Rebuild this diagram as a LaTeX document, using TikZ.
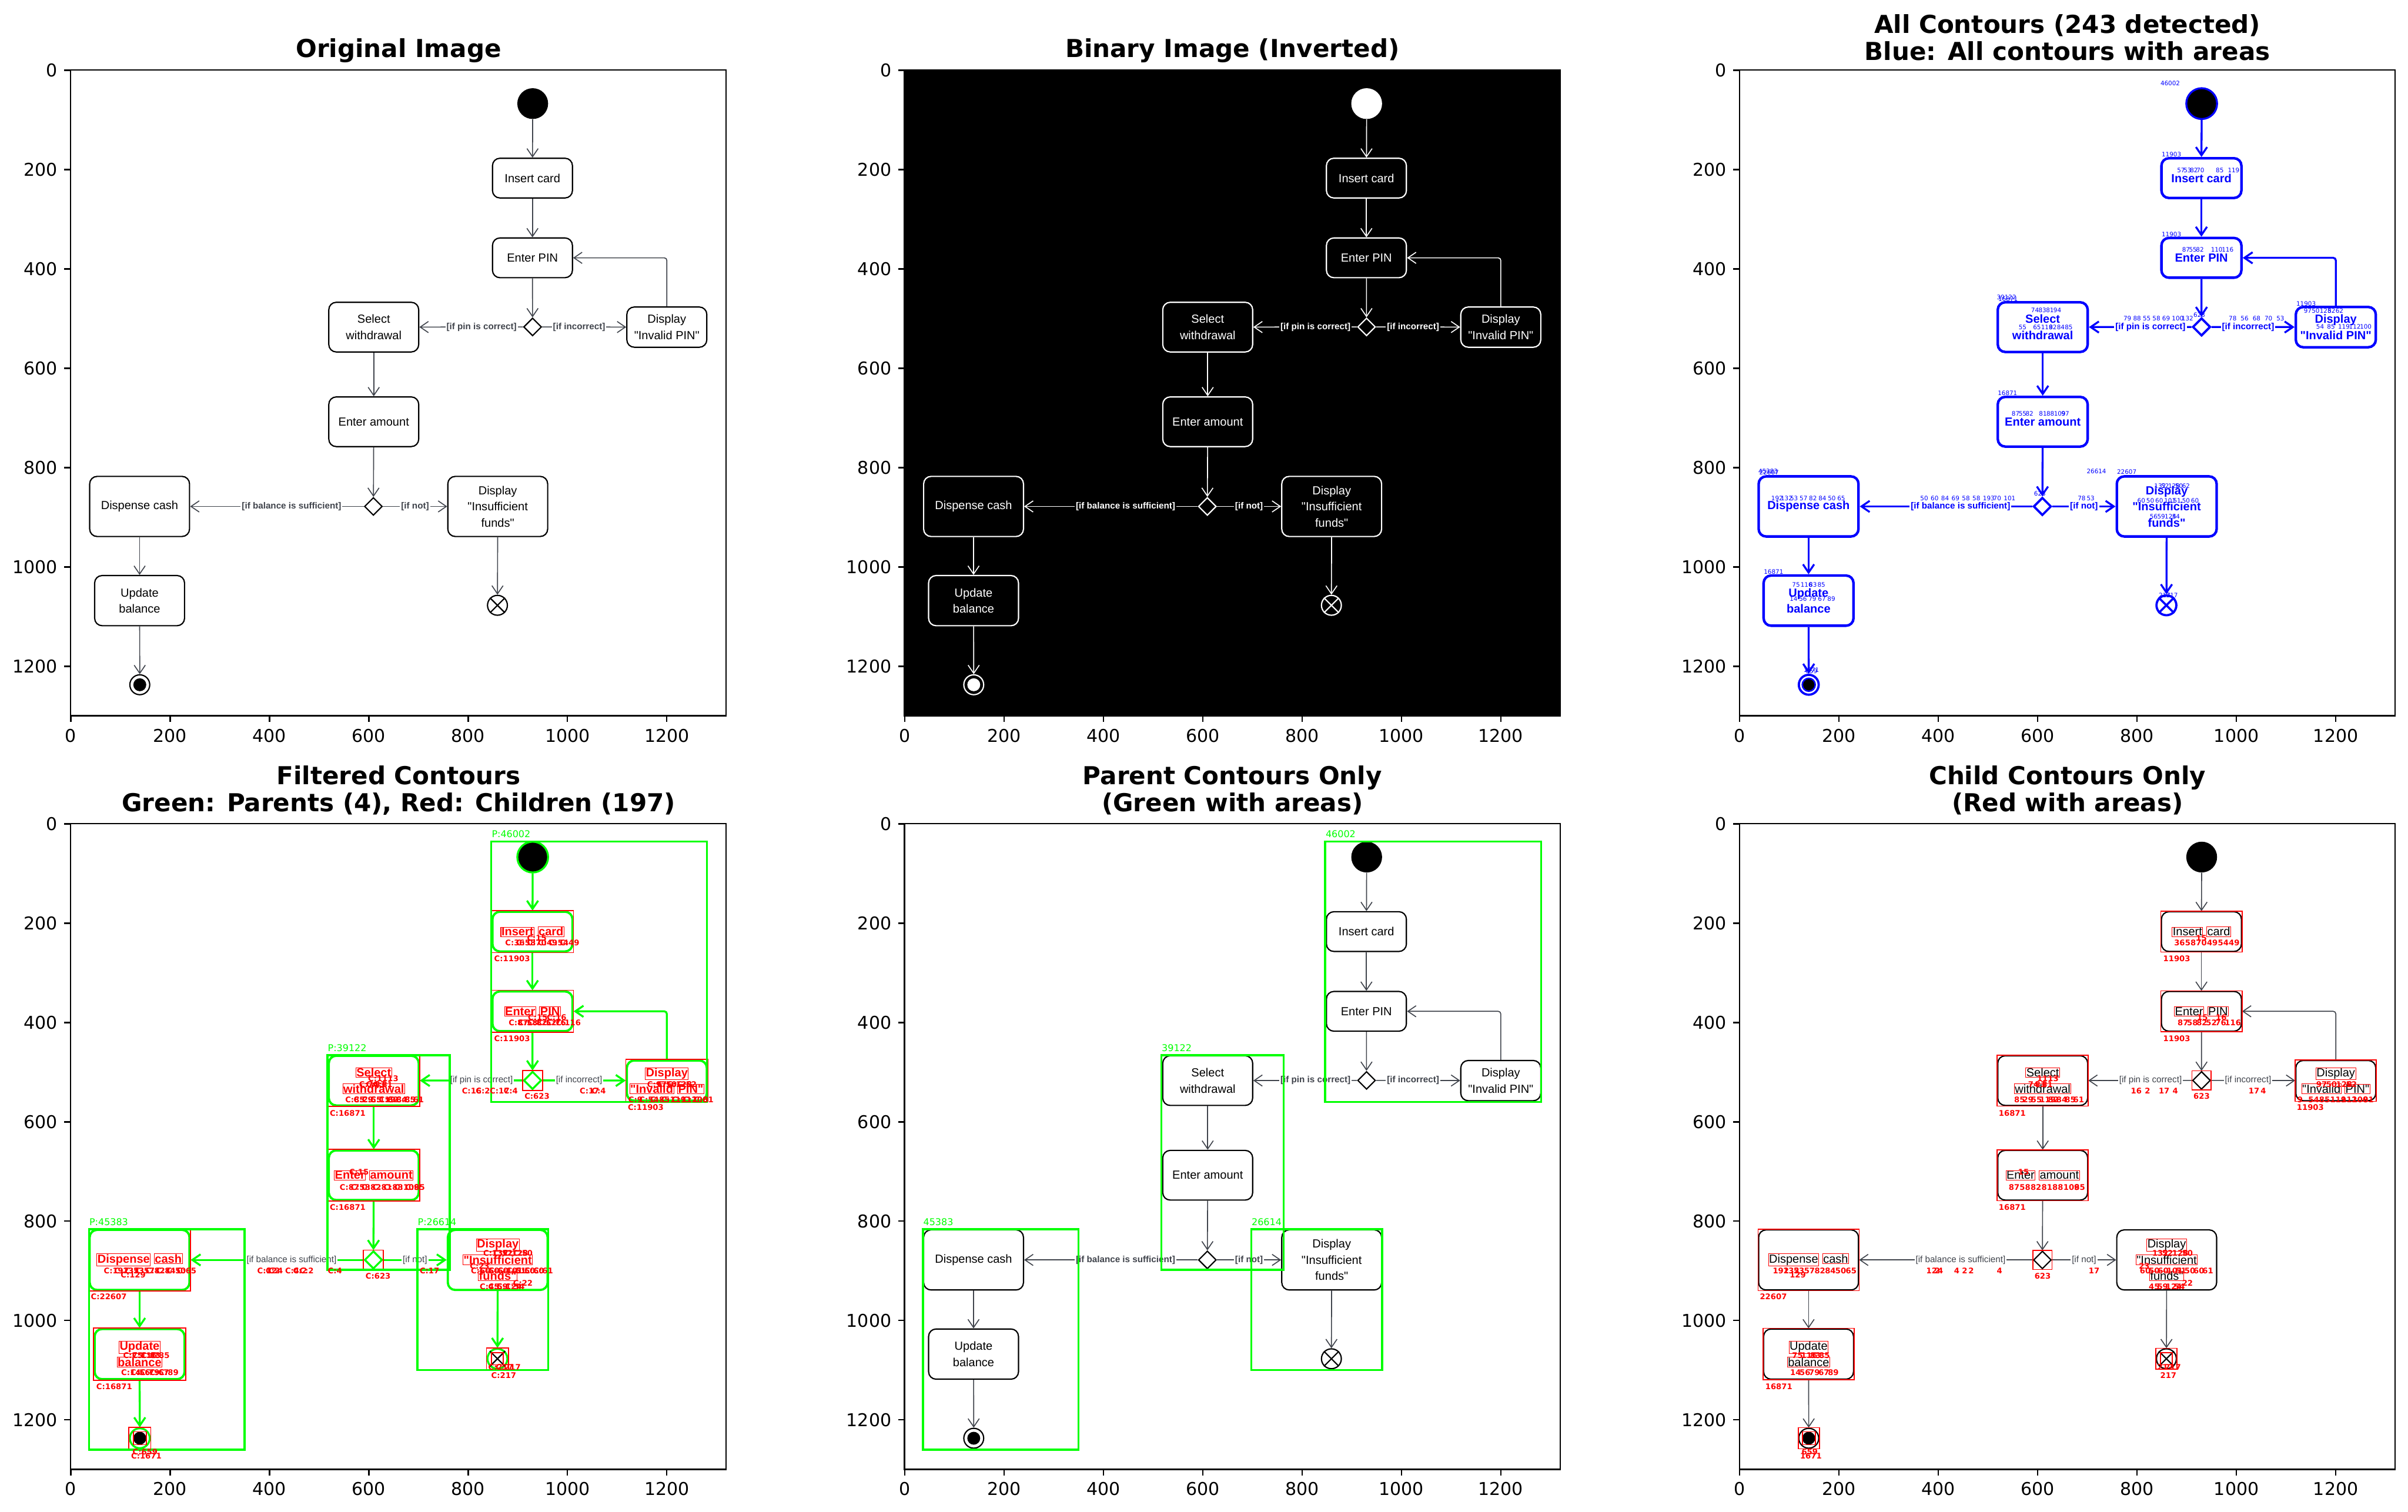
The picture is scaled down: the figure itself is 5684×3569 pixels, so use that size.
\documentclass[tikz,border=0pt]{standalone}
\usepackage{fontspec}
\setmainfont{DejaVu Sans}
\newfontfamily\boxface{Liberation Sans}
\usetikzlibrary{arrows.meta,shapes.geometric}

\definecolor{edgegray}{RGB}{64,68,76}
\definecolor{cvblue}{RGB}{0,0,255}
\definecolor{cvgreen}{RGB}{0,255,0}
\definecolor{cvred}{RGB}{255,0,0}

\newcommand{\du}{0.011725cm}
\newcommand{\titlefont}{\fontsize{16.6}{18.2}\selectfont\bfseries}
\newcommand{\tickfont}{\fontsize{11.85}{14}\selectfont}
\newcommand{\actfont}{\boxface\fontsize{7.9}{10.8}\selectfont}
\newcommand{\guardfont}{\boxface\bfseries\fontsize{6}{7}\selectfont}
\newcommand{\plainguardfont}{\boxface\fontsize{6}{7}\selectfont}
\newcommand{\bluefont}{\fontsize{4.1}{5}\selectfont}
\newcommand{\redfont}{\fontsize{5.2}{6}\selectfont\bfseries}
\newcommand{\greenfont}{\fontsize{6.3}{7}\selectfont}

% word frames for child contours
\newcommand{\chwfmt}[1]{#1}
\newcommand{\chw}[1]{\chwfmt{#1}}
\newcommand{\redframe}[1]{{\setlength{\fboxsep}{0.2pt}\setlength{\fboxrule}{0.4pt}\fcolorbox{cvred}{white}{#1}}}
\newcommand{\ctpre}{}

\tikzset{
  act/.style={rectangle, rounded corners=0.176cm, inner sep=0pt, align=center, font=\actfont, actlook},
  decide/.style={diamond, minimum width=36*\du, minimum height=36*\du, inner sep=0pt, decidelook},
  startnode/.style={circle, minimum size=62*\du, inner sep=0pt, startlook},
  flowend/.style={circle, minimum size=40*\du, inner sep=0pt, endlook},
  finalnode/.style={circle, minimum size=40*\du, inner sep=0pt, endlook},
  flow/.style={flowlook, -{Straight Barb[length=5.5pt,width=7.5pt]}},
  guard/.style={font=\guardfont, inner sep=0.8pt, guardlook},
  actlook/.style={draw=black, line width=0.85pt, fill=white, text=black},
  decidelook/.style={draw=black, line width=0.85pt, fill=white},
  startlook/.style={fill=black},
  endlook/.style={draw=black, line width=0.85pt, fill=white},
  endcross/.style={draw=black, line width=0.85pt},
  finalcore/.style={fill=black},
  flowlook/.style={draw=edgegray, line width=0.65pt},
  guardlook/.style={text=edgegray, fill=white},
  spine/.style={draw=black, line width=0.95pt},
  ticklabel/.style={font=\tickfont, inner sep=4.15pt},
  titletext/.style={font=\titlefont, align=center, inner sep=0pt},
  parentbox/.style={draw=cvgreen, line width=1.35pt},
  parenttag/.style={anchor=base west, inner sep=0pt, font=\greenfont, text=cvgreen},
  childbox/.style={draw=cvred, line width=0.65pt},
  childtag/.style={anchor=base west, inner sep=0pt, font=\redfont, text=cvred},
  bluetag/.style={anchor=base west, inner sep=0pt, font=\bluefont, text=cvblue},
  binarylook/.style={
    actlook/.style={draw=white, line width=0.85pt, fill=black, text=white},
    decidelook/.style={draw=white, line width=0.85pt, fill=black},
    startlook/.style={fill=white},
    endlook/.style={draw=white, line width=0.85pt, fill=black},
    endcross/.style={draw=white, line width=0.85pt},
    finalcore/.style={fill=white},
    flowlook/.style={draw=white, line width=0.65pt},
    guardlook/.style={text=white, fill=black}},
  bluelook/.style={
    actlook/.style={draw=cvblue, line width=1.7pt, fill=white, text=cvblue, font=\actfont\bfseries},
    decidelook/.style={draw=cvblue, line width=1.5pt, fill=white},
    startlook/.style={fill=black, draw=cvblue, line width=1.3pt},
    endlook/.style={draw=cvblue, line width=1.5pt, fill=white},
    endcross/.style={draw=cvblue, line width=1.4pt},
    finalcore/.style={fill=black, draw=cvblue, line width=1pt},
    flowlook/.style={draw=cvblue, line width=1.3pt},
    guardlook/.style={text=cvblue, fill=white}},
  greenlook/.style={
    actlook/.style={draw=cvgreen, line width=1.5pt, fill=white, text=cvred, font=\actfont\bfseries},
    decidelook/.style={draw=cvgreen, line width=1.3pt, fill=white},
    startlook/.style={fill=black, draw=cvgreen, line width=1.3pt},
    endlook/.style={draw=cvgreen, line width=1.3pt, fill=white},
    flowlook/.style={draw=cvgreen, line width=1.3pt},
    guardlook/.style={text=edgegray, fill=white, font=\plainguardfont}},
  childlook/.style={
    guardlook/.style={text=edgegray, fill=white, font=\plainguardfont}},
}

% the activity diagram, in image pixels
\newcommand{\atmflow}{%
  \node[startnode] (init) at (930,67) {};
  \node[act, minimum width=161*\du, minimum height=80*\du] (card) at (929.5,217) {\chw{Insert} \chw{card}};
  \node[act, minimum width=161*\du, minimum height=80*\du] (pin) at (929.5,377.5) {\chw{Enter} \chw{PIN}};
  \node[decide] (pinchk) at (929.7,516.6) {};
  \node[act, minimum width=181*\du, minimum height=100*\du] (sel) at (610,517) {\chw{Select}\\\chw{withdrawal}};
  \node[act, minimum width=161*\du, minimum height=81*\du] (bad) at (1200,517) {\chw{Display}\\\chw{"Invalid} \chw{PIN"}};
  \node[act, minimum width=181*\du, minimum height=100*\du] (amt) at (610,707.5) {\chw{Enter} \chw{amount}};
  \node[decide] (balchk) at (609.3,878) {};
  \node[act, minimum width=201*\du, minimum height=121*\du] (cash) at (138.6,878) {\chw{Dispense} \chw{cash}};
  \node[act, minimum width=201*\du, minimum height=121*\du] (nofunds) at (859.6,878) {\chw{Display}\\\chw{"Insufficient}\\\chw{funds"}};
  \node[act, minimum width=181*\du, minimum height=101*\du] (upd) at (138.6,1067.6) {\chw{Update}\\\chw{balance}};
  \node[flowend] (stopx) at (859,1077) {};
  \node[finalnode] (done) at (139,1237) {};
  \draw[endcross] (stopx.north west) -- (stopx.south east) (stopx.north east) -- (stopx.south west);
  \path[finalcore] (done.center) circle[radius=13*\du];
  % connectors
  \draw[flow] (init) -- (card);
  \draw[flow] (card) -- (pin);
  \draw[flow] (pin) -- (pinchk);
  \draw[flow] (pinchk) -- node[guard, pos=0.4] {[if pin is correct]} (sel);
  \draw[flow] (pinchk) -- node[guard, pos=0.44] {[if incorrect]} (bad);
  \draw[flow, rounded corners=0.06cm] (bad.north) |- (pin.east);
  \draw[flow] (sel) -- (amt);
  \draw[flow] (amt) -- (balchk);
  \draw[flow] (balchk) -- node[guard, pos=0.416] {[if balance is sufficient]} (cash);
  \draw[flow] (balchk) -- node[guard, pos=0.5] {[if not]} (nofunds);
  \draw[flow] (cash) -- (upd);
  \draw[flow] (upd) -- (done);
  \draw[flow] (nofunds) -- (stopx);
}

\newcommand{\plotframe}{%
  \draw[spine] (-0.5,-0.5) rectangle (1319.5,1299.5);
  \foreach \t in {0,200,...,1200}{%
    \draw[spine] (\t,1299.5) -- ++(0,12.4) node[ticklabel, anchor=north] {\t};
    \draw[spine] (-0.5,\t) -- ++(-12.4,0) node[ticklabel, anchor=east] {\t};
  }}

\newcommand{\tagrow}[5]{\foreach \v [count=\i from 0] in {#5}{\node[#1] at ({#2+\i*#3},#4) {\ctpre\v};}}

\newcommand{\parentrects}[1]{%
  \draw[parentbox] (846.5,35.6) rectangle (1281,560);
  \draw[parentbox] (517,466) rectangle (763,898);
  \draw[parentbox] (37,816) rectangle (350,1260);
  \draw[parentbox] (698,816) rectangle (961,1100);
  \node[parenttag] at (847,27.5) {#1{}46002};
  \node[parenttag] at (517,458) {#1{}39122};
  \node[parenttag] at (37,808) {#1{}45383};
  \node[parenttag] at (698,808) {#1{}26614};
}

\newcommand{\childrects}{%
  \foreach \b in {card,pin,sel,bad,amt,cash,upd}
    \draw[childbox] (\b.south west) rectangle (\b.north east);
  \foreach \b in {pinchk,balchk,done,stopx}
    \draw[childbox] (\b.west |- \b.north) rectangle (\b.east |- \b.south);
  \draw[childbox] ([shift={(-13,-13)}]done.center) rectangle ([shift={(13,13)}]done.center);
  \draw[childbox] ([shift={(-12,-12)}]stopx.center) rectangle ([shift={(12,12)}]stopx.center);
}

\newcommand{\childtags}{%
  \node[childtag] at (852,277) {\ctpre11903};
  \node[childtag] at (852,438) {\ctpre11903};
  \node[childtag] at (521,588) {\ctpre16871};
  \node[childtag] at (521,778) {\ctpre16871};
  \node[childtag] at (1121,577) {\ctpre11903};
  \node[childtag] at (40,958) {\ctpre22607};
  \node[childtag] at (51,1139) {\ctpre16871};
  \node[childtag] at (913,554) {\ctpre623};
  \node[childtag] at (593,916) {\ctpre623};
  \node[childtag] at (702,905) {\ctpre17};
  \node[childtag] at (890,930) {\ctpre22};
  \node[childtag] at (803,896) {\ctpre23};
  \node[childtag] at (840,1100) {\ctpre217};
  \node[childtag] at (855,1100) {\ctpre217};
  \node[childtag] at (846,1116) {\ctpre217};
  \node[childtag] at (124,1270) {\ctpre659};
  \node[childtag] at (121,1278) {\ctpre1671};
  \node[childtag] at (918,236) {\ctpre15};
  \node[childtag] at (920,396) {\ctpre15};
  \node[childtag] at (958,396) {\ctpre16};
  \node[childtag] at (598,519) {\ctpre1113};
  \node[childtag] at (560,707) {\ctpre15};
  \node[childtag] at (100,914) {\ctpre129};
  \tagrow{childtag}{874}{22}{245}{36,58,70,49,54,49}
  \tagrow{childtag}{881}{19}{406}{87,58,82,52,76,116}
  \tagrow{childtag}{580}{14}{530}{74,83,81}
  \tagrow{childtag}{552}{17}{561}{85,29,55,119,82,84,85,61}
  \tagrow{childtag}{1160}{20}{530}{97,50,128,52}
  \tagrow{childtag}{1122}{22}{561}{9,54,85,119,112,100,81}
  \tagrow{childtag}{541}{22}{737}{87,58,82,81,88,109,85}
  \tagrow{childtag}{66}{21}{906}{192,132,53,57,82,84,50,65}
  \tagrow{childtag}{105}{18}{1076}{75,116,83,85}
  \tagrow{childtag}{101}{19}{1110}{14,56,79,67,89}
  \tagrow{childtag}{830}{20}{870}{132,52,128,50}
  \tagrow{childtag}{805}{18}{906}{60,50,60,101,51,50,60,61}
  \tagrow{childtag}{823}{17}{938}{45,59,124,54}
  \tagrow{childtag}{787}{28}{544}{16,2,17,4}
  \tagrow{childtag}{1024}{24}{544}{17,4}
  \foreach \x/\v in {375/12,392/2,398/4,431/4,447/2,460/2,517/4}
    \node[childtag] at (\x,905) {\ctpre\v};
}

\newcommand{\blueareas}{%
  \node[bluetag] at (846.5,31) {46002};
  \node[bluetag] at (849,174) {11903};
  \node[bluetag] at (849,335) {11903};
  \node[bluetag] at (517,462) {39122};
  \node[bluetag] at (520,465) {16871};
  \node[bluetag] at (1120,474) {11903};
  \node[bluetag] at (913,497) {623};
  \node[bluetag] at (519,654) {16871};
  \node[bluetag] at (592,857) {623};
  \node[bluetag] at (37,812) {45383};
  \node[bluetag] at (39,814) {22607};
  \node[bluetag] at (698,812) {26614};
  \node[bluetag] at (759,813) {22607};
  \node[bluetag] at (48,1014) {16871};
  \node[bluetag] at (843,1061) {217};
  \node[bluetag] at (858,1061) {217};
  \node[bluetag] at (128,1212) {1671};
  \node[bluetag] at (132,1214) {659};
  \tagrow{bluetag}{880}{13}{206}{57,53,82,70}
  \tagrow{bluetag}{958}{24}{206}{85,119}
  \tagrow{bluetag}{890}{14}{365}{87,55,82}
  \tagrow{bluetag}{948}{22}{365}{110,116}
  \tagrow{bluetag}{586}{15}{488}{74,83,81,94}
  \tagrow{bluetag}{561}{0}{522}{55}
  \tagrow{bluetag}{590}{16}{522}{65,119,82,84,85}
  \tagrow{bluetag}{772}{19.5}{504}{79,88,55,58,69,100,132}
  \tagrow{bluetag}{984}{24}{504}{78,56,68,70,53}
  \tagrow{bluetag}{1135}{16}{489}{97,50,128,52,62}
  \tagrow{bluetag}{1160}{22}{521}{54,85,119,112,100}
  \tagrow{bluetag}{547}{14}{696}{87,55,82}
  \tagrow{bluetag}{602}{15}{696}{81,88,109,97}
  \tagrow{bluetag}{63}{19}{866}{192,132,53,57,82,84,50,65}
  \tagrow{bluetag}{363}{21}{866}{50,60,84,69,58,58,193,70,101}
  \tagrow{bluetag}{680}{18}{866}{78,53}
  \tagrow{bluetag}{834}{14}{841}{132,52,128,50,62}
  \tagrow{bluetag}{800}{18}{871}{60,50,60,101,51,50,60}
  \tagrow{bluetag}{825}{15}{903}{56,59,124,54}
  \tagrow{bluetag}{105}{17}{1040}{75,116,83,85}
  \tagrow{bluetag}{100}{19}{1068}{14,56,79,67,89}
}

\begin{document}
\begin{tikzpicture}[x=0.01cm, y=-0.01cm]
\useasboundingbox (0,0) rectangle (5684,3569);
\fill[white] (0,0) rectangle (5684,3569);

% titles
\node[titletext] (t1) at (941,120) {Original Image};
\node[titletext] (t2) at (2909,120) {Binary Image (Inverted)};
\node[titletext] (t3) at (4880,88) {All Contours (243 detected)\\Blue: All contours with areas};
\node[titletext] (t4) at (941,1866) {Filtered Contours\\Green: Parents (4), Red: Children (197)};
\node[titletext] (t5) at (2909,1866) {Parent Contours Only\\(Green with areas)};
\node[titletext] (t6) at (4880,1866) {Child Contours Only\\(Red with areas)};

% original
\begin{scope}[shift={(167,166)}, x=\du, y=-\du]
  \atmflow
  \plotframe
\end{scope}

% binary inverted
\begin{scope}[shift={(2135.5,166)}, x=\du, y=-\du, binarylook]
  \fill[black] (-0.5,-0.5) rectangle (1319.5,1299.5);
  \atmflow
  \plotframe
\end{scope}

% all contours
\begin{scope}[shift={(4106.5,166)}, x=\du, y=-\du, bluelook]
  \atmflow
  \blueareas
  \plotframe
\end{scope}

% filtered contours
\begin{scope}[shift={(167,1944.6)}, x=\du, y=-\du, greenlook]
  \renewcommand{\chwfmt}[1]{\redframe{#1}}
  \renewcommand{\ctpre}{C:}
  \atmflow
  \childrects
  \parentrects{P:}
  \childtags
  \plotframe
\end{scope}

% parents only
\begin{scope}[shift={(2135.5,1944.6)}, x=\du, y=-\du]
  \atmflow
  \parentrects{}
  \plotframe
\end{scope}

% children only
\begin{scope}[shift={(4106.5,1944.6)}, x=\du, y=-\du, childlook]
  \renewcommand{\chwfmt}[1]{\redframe{#1}}
  \atmflow
  \childrects
  \childtags
  \plotframe
\end{scope}
\end{tikzpicture}
\end{document}
